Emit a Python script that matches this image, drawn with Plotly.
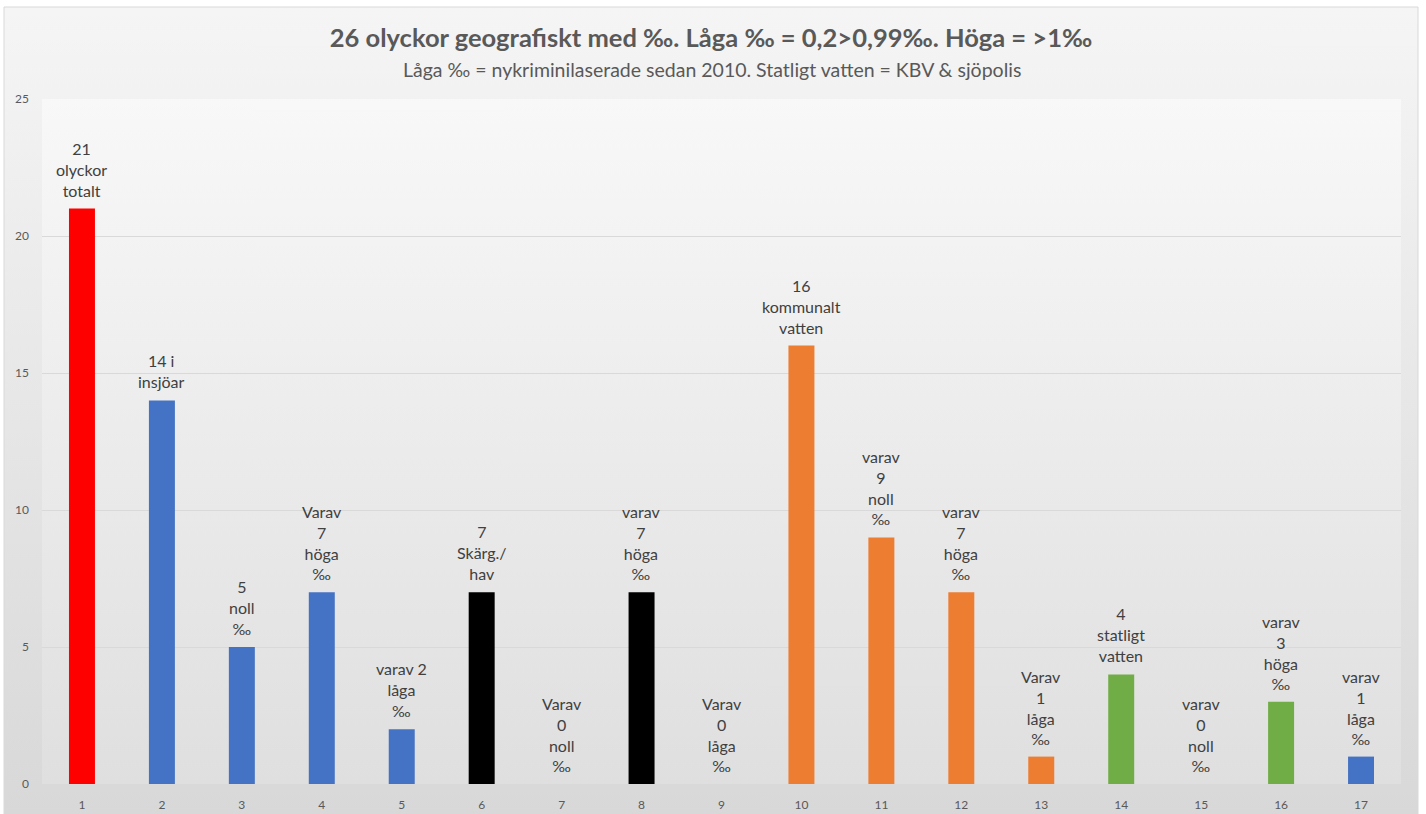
import base64
import plotly.graph_objects as go

# ---- data ----
categories = list(range(1, 18))
category_labels = [str(c) for c in categories]
values = [21, 14, 5, 7, 2, 7, 0, 7, 0, 16, 9, 7, 1, 4, 0, 3, 1]
labels = [
    "21<br>olyckor<br>totalt",
    "14 i<br>insjöar",
    "5<br>noll<br>‰",
    "Varav<br>7<br>höga<br>‰",
    "varav 2<br>låga<br>‰",
    "7<br>Skärg./<br>hav",
    "Varav<br>0<br>noll<br>‰",
    "varav<br>7<br>höga<br>‰",
    "Varav<br>0<br>låga<br>‰",
    "16<br>kommunalt<br>vatten",
    "varav<br>9<br>noll<br>‰",
    "varav<br>7<br>höga<br>‰",
    "Varav<br>1<br>låga<br>‰",
    "4<br>statligt<br>vatten",
    "varav<br>0<br>noll<br>‰",
    "varav<br>3<br>höga<br>‰",
    "varav<br>1<br>låga<br>‰",
]
bar_colors = ["#FF0000", "#4472C4", "#4472C4", "#4472C4", "#4472C4",
              "#000000", "#000000", "#000000", "#000000",
              "#ED7D31", "#ED7D31", "#ED7D31", "#ED7D31",
              "#70AD47", "#70AD47", "#70AD47", "#4472C4"]
y_ticks = [0, 5, 10, 15, 20, 25]

title = "26 olyckor geografiskt med ‰. Låga ‰ = 0,2>0,99‰. Höga = >1‰"
subtitle = "Låga ‰ = nykriminilaserade sedan 2010. Statligt vatten = KBV & sjöpolis"

# ---- layout geometry (pixels) ----
W, H = 1426, 814
PL, PR, PT, PB = 42, 1401, 99, 784
pw, ph = PR - PL, PB - PT


def px_x(px):
    return (px - PL) / pw


def px_y(py):
    return (PB - py) / ph


def grad_svg(c0, c1):
    svg = ('<svg xmlns="http://www.w3.org/2000/svg" width="100" height="100" '
           'preserveAspectRatio="none"><defs><linearGradient id="g" x1="0" y1="0" '
           'x2="0" y2="1"><stop offset="0" stop-color="%s"/><stop offset="1" '
           'stop-color="%s"/></linearGradient></defs><rect width="100" height="100" '
           'fill="url(#g)"/></svg>') % (c0, c1)
    return "data:image/svg+xml;base64," + base64.b64encode(svg.encode()).decode()


FONT = "Lato"
TXT = "#404040"
TICK = "#595959"

fig = go.Figure()
fig.add_trace(go.Bar(
    x=categories, y=values,
    marker=dict(color=bar_colors, line=dict(width=0)),
    hoverinfo="x+y",
))

annotations = []
for c, v, t in zip(categories, values, labels):
    annotations.append(dict(
        x=c, y=v, xref="x", yref="y", text=t, showarrow=False,
        yanchor="bottom", yshift=7,
        font=dict(family=FONT, size=16, color=TXT),
    ))
annotations.append(dict(
    x=px_x(712), y=px_y(70), xref="paper", yref="paper", text=subtitle,
    showarrow=False, xanchor="center", yanchor="middle",
    font=dict(family=FONT, size=19.5, color=TICK),
))

fig.update_layout(
    width=W, height=H,
    margin=dict(l=PL, r=W - PR, t=PT, b=H - PB, pad=0, autoexpand=False),
    paper_bgcolor="white",
    plot_bgcolor="rgba(0,0,0,0)",
    showlegend=False,
    bargap=0.675,
    title=dict(text="<b>" + title + "</b>", x=711 / W, xref="container",
               xanchor="center", y=1 - 38 / H, yref="container", yanchor="middle",
               font=dict(family=FONT, size=25.5, color=TICK)),
    font=dict(family=FONT, color=TICK),
    annotations=annotations,
    images=[
        dict(source=grad_svg("#f5f5f5", "#d8d8d8"), xref="paper", yref="paper",
             x=px_x(4), y=px_y(7), sizex=(1418 - 4) / pw, sizey=(814 - 7) / ph,
             sizing="stretch", layer="below", xanchor="left", yanchor="top"),
        dict(source=grad_svg("#f8f8f8", "#dfdfdf"), xref="paper", yref="paper",
             x=0, y=1, sizex=1, sizey=1,
             sizing="stretch", layer="below", xanchor="left", yanchor="top"),
    ],
    shapes=[
        dict(type="rect", xref="paper", yref="paper",
             x0=px_x(4), x1=px_x(1418), y0=px_y(816), y1=px_y(7),
             line=dict(color="#d9d9d9", width=1), fillcolor="rgba(0,0,0,0)",
             layer="below"),
    ],
)

fig.update_xaxes(
    range=[0.5, 17.5], tickvals=categories, ticktext=category_labels,
    showgrid=False, zeroline=False, showline=True, linecolor="#d9d9d9",
    linewidth=1, ticks="", tickfont=dict(family=FONT, size=12, color=TICK),
    ticklabelstandoff=10, automargin=False,
)
fig.update_yaxes(
    range=[0, 25], tickvals=y_ticks, showgrid=True, gridcolor="#d9d9d9",
    gridwidth=1, zeroline=False, showline=False, ticks="",
    tickfont=dict(family=FONT, size=12, color=TICK), ticklabelstandoff=12,
    automargin=False,
)

fig.write_html("out.html", config={"displayModeBar": False},
               post_script="document.body.style.margin='0px';")
